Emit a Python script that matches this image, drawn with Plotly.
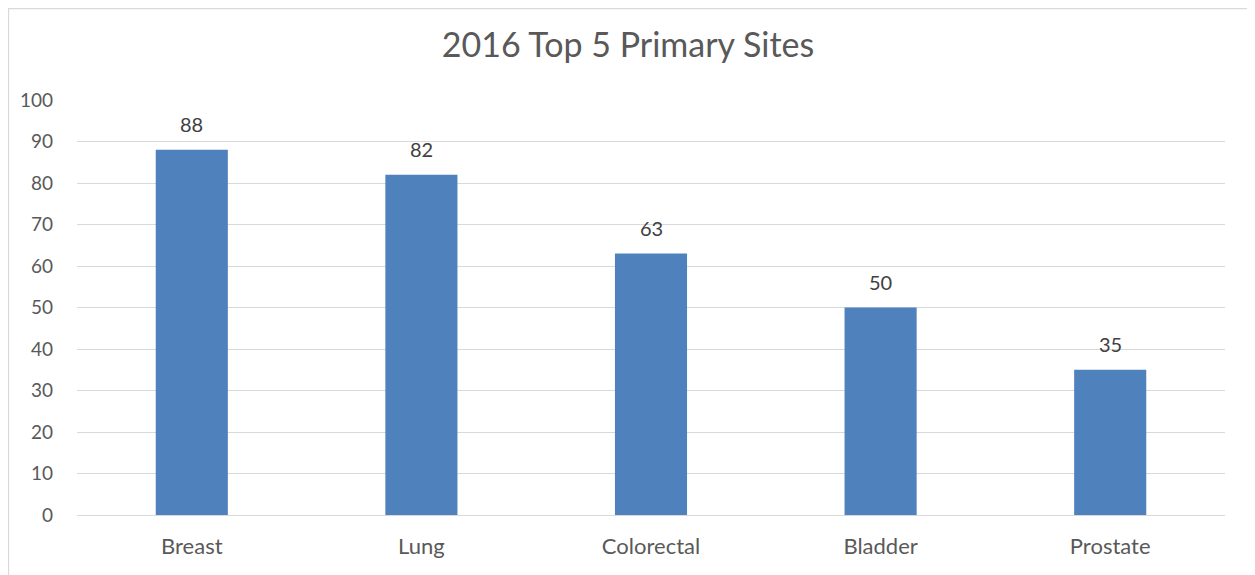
import plotly.graph_objects as go

categories = ["Breast", "Lung", "Colorectal", "Bladder", "Prostate"]
values = [88, 82, 63, 50, 35]
y_ticks = [0, 10, 20, 30, 40, 50, 60, 70, 80, 90, 100]
title_text = "2016 Top 5 Primary Sites"

OFF = 8  # default page body margin
W, H = 1255 - OFF, 575 - OFF
ml, mt = 77 - OFF, 100 - OFF
pw, ph = 1148, 415
mr, mb = W - ml - pw, H - mt - ph

FONT = "Lato, Open Sans, sans-serif"

fig = go.Figure(go.Bar(
    x=categories, y=values,
    marker=dict(color="#4F81BD", line=dict(width=0)),
    hoverinfo="x+y",
))

for c, v in zip(categories, values):
    fig.add_annotation(x=c, y=v, text=str(v), showarrow=False, yshift=26,
                       font=dict(family=FONT, size=20, color="#404040"))

fig.update_layout(
    width=W, height=H,
    margin=dict(l=ml, r=mr, t=mt, b=mb, autoexpand=False),
    paper_bgcolor="white", plot_bgcolor="white",
    bargap=0.686,
    showlegend=False,
    title=dict(text=title_text, x=(628 - OFF) / W, xanchor="center",
               y=1 - (45 - OFF) / H, yanchor="middle",
               font=dict(family=FONT, size=34, color="#595959")),
    xaxis=dict(showgrid=False, showline=False, ticks="", zeroline=False,
               tickfont=dict(family=FONT, size=22, color="#595959")),
    yaxis=dict(range=[0, 100], tickvals=y_ticks, showgrid=True, gridcolor="#D9D9D9",
               gridwidth=1.3, zeroline=True, zerolinecolor="#D9D9D9", zerolinewidth=1.3,
               showline=False, ticks="", ticklen=0,
               tickfont=dict(family=FONT, size=19, color="#595959")),
    shapes=[dict(type="rect", xref="paper", yref="paper",
                 x0=(0.5 - ml) / pw, x1=(1250 - OFF - ml) / pw,
                 y0=-(600 - OFF - (mt + ph)) / ph, y1=((mt + ph) - 0.5) / ph,
                 line=dict(color="#D9D9D9", width=1.3), fillcolor="rgba(0,0,0,0)")],
)
fig.update_yaxes(ticklabelstandoff=23)
fig.update_xaxes(ticklabelstandoff=16)

fig.write_html("out.html")
